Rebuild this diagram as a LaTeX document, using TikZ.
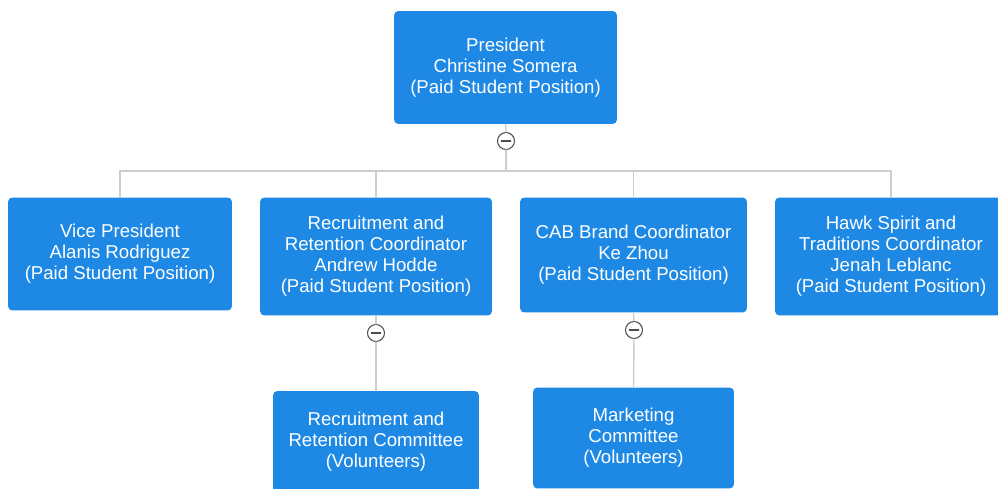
\documentclass[tikz,border=0pt]{standalone}
\usepackage{fontspec}
\setmainfont{Liberation Sans}
\definecolor{boxblue}{RGB}{30,137,229}
\definecolor{linkgray}{RGB}{205,205,205}
\begin{document}
\begin{tikzpicture}[x=0.02cm, y=-0.02cm, line join=round, line cap=round,
	post/.style={rectangle, rounded corners=2.5pt, fill=boxblue, text=white, align=center, inner sep=0pt, font=\fontsize{10.6}{11.9}\selectfont},
	link/.style={draw=linkgray, line width=0.8pt},
	fold/.style={circle, draw=black!70, fill=white, line width=0.6pt, minimum size=0.34cm, inner sep=0pt}]
	\useasboundingbox (0,0) rectangle (998,489);
	\clip (0,0) rectangle (998,489);
	% Boxes
	\node[post, minimum width=4.46cm, minimum height=2.26cm] (pres) at (505.5,67.5) {President\\Christine Somera\\(Paid Student Position)};
	\node[post, minimum width=4.48cm, minimum height=2.26cm] (vp) at (120,254) {Vice President\\Alanis Rodriguez\\(Paid Student Position)};
	\node[post, minimum width=4.64cm, minimum height=2.36cm] (rrc) at (376,256.5) {Recruitment and\\Retention Coordinator\\Andrew Hodde\\(Paid Student Position)};
	\node[post, minimum width=4.54cm, minimum height=2.30cm] (cab) at (633.5,255) {CAB Brand Coordinator\\Ke Zhou\\(Paid Student Position)};
	\node[post, minimum width=4.64cm, minimum height=2.36cm] (hawk) at (891,256.5) {Hawk Spirit and\\Traditions Coordinator\\Jenah Leblanc\\(Paid Student Position)};
	\node[post, minimum width=4.12cm, minimum height=2.04cm] (rrcom) at (376,442) {Recruitment and\\Retention Committee\\(Volunteers)};
	\node[post, minimum width=4.02cm, minimum height=2.02cm] (mkt) at (633.5,438) {Marketing\\Committee\\(Volunteers)};
	% Collapse buttons
	\node[fold] (presc) at (506,141) {};
	\node[fold] (rrcc) at (376,333) {};
	\node[fold] (cabc) at (634,330) {};
	\foreach \c in {presc,rrcc,cabc}
		\draw[black!70, line width=0.9pt] ([xshift=-2.6pt]\c.center)--([xshift=2.6pt]\c.center);
	\coordinate (bus) at (506,171);
	% Links
	\draw[link] (pres.south)--(presc.north);
	\draw[link] (presc.south)--(bus);
	\draw[link] (vp.north) |- (bus) -| (hawk.north);
	\draw[link] (rrc.north)--(rrc.north |- bus);
	\draw[link] (cab.north)--(cab.north |- bus);
	\draw[link] (rrc.south)--(rrcc.north) (rrcc.south)--(rrcom.north);
	\draw[link] (cab.south)--(cabc.north) (cabc.south)--(mkt.north);
\end{tikzpicture}
\end{document}
